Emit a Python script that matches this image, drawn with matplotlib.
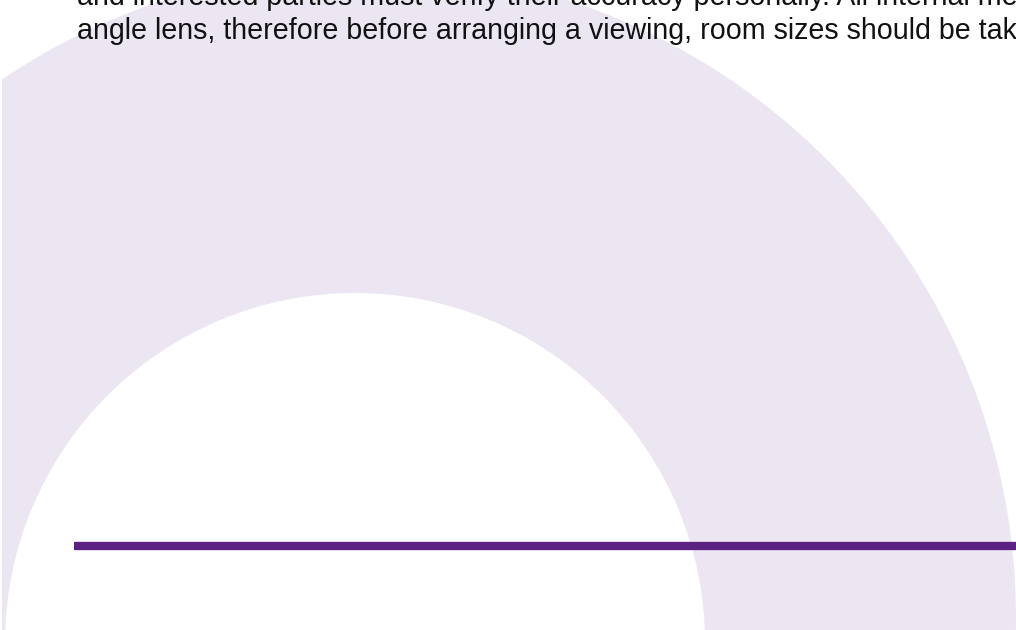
import matplotlib
matplotlib.use('Agg')
import matplotlib.pyplot as plt
from matplotlib.patches import Circle, Rectangle

# page fragment: lavender arc, purple rule, two clipped lines of body text
W, H = 1016, 630
lavender = '#ECE6F2'
purple = '#5B2283'

# circle centres / radii in pixel units (y down)
outer_circle = (366, 618, 650)
inner_circle = (355, 643, 350)

rule_x = [74, 1016]
rule_y = [546, 546]

text_lines = [
    'and interested parties must verify their accuracy personally. All internal measurements',
    'angle lens, therefore before arranging a viewing, room sizes should be taken',
]
text_x = 77
text_baselines = [5, 39]

fig = plt.figure(figsize=(W / 100, H / 100), dpi=100)
ax = fig.add_axes([0, 0, 1, 1])
ax.set_xlim(0, W)
ax.set_ylim(H, 0)
ax.axis('off')

clip = Rectangle((2, -10), W, H + 20, transform=ax.transData)

cx, cy, r = outer_circle
outer = Circle((cx, cy), r, color=lavender, lw=0)
ax.add_patch(outer)
outer.set_clip_path(clip)

cx, cy, r = inner_circle
ax.add_patch(Circle((cx, cy), r, color='white', lw=0))

ax.plot(rule_x, rule_y, color=purple, lw=6, solid_capstyle='butt')

for line, y in zip(text_lines, text_baselines):
    ax.text(text_x, y, line, fontsize=20.6, family='Liberation Sans',
            color='#111111', va='baseline', ha='left')

fig.savefig('out.png', dpi=100)
